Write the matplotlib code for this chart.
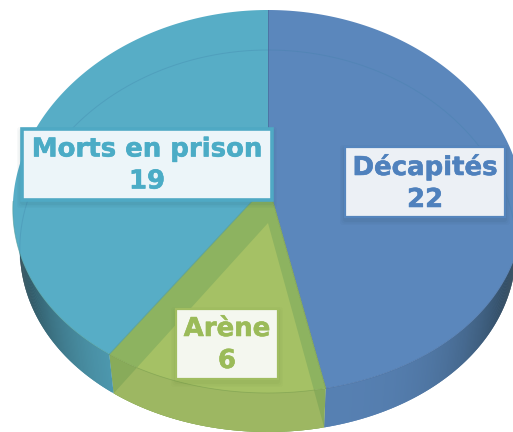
"""
Translucent 3D-look pie chart drawn from the slice counts.
"""

import numpy as np
import matplotlib
matplotlib.use("Agg")
import matplotlib.pyplot as plt
import matplotlib.patheffects as pe
from matplotlib.colors import to_rgb
from matplotlib.patches import FancyBboxPatch, Polygon, Rectangle

labels = ["Décapités", "Arène", "Morts en prison"]
values = [22, 6, 19]
colors = ["#5b87bc", "#8db360", "#57adc6"]
text_colors = ["#4f81bd", "#9bbb59", "#4bacc6"]
box_fills = ["#ecf0f5", "#f4f7ef", "#ecf5f9"]
box_edges = ["#5585bd", "#a0bd60", "#4fa9c4"]
box_shadows = ["#1d3a50", "#5f7f30", "#1d4a5a"]
box_widths = [1.6, 1.6, 2.6]
label_boxes = [(345, 147, 160, 70), (176, 309, 102, 70), (22, 129, 250, 71)]

GREEN_LIGHT = "#a5c165"
GREEN_FRONT = "#9db762"
GREEN_WALL = "#88ab5a"

CX = 268
TOP = dict(cy=201.5, rx=255, ry=191.5, apex=184)
BOTTOM = dict(cy=241, rx=248, ry=191, apex=223)


def warp(theta):
    # perspective spreads the angles near the front of the disk
    return theta + 0.049 * np.sin(2 * theta)


def rim(theta, disk):
    x = CX + disk["rx"] * np.sin(theta) * (1 - 0.04 * np.cos(theta))
    return x, disk["cy"] - disk["ry"] * np.cos(theta)


def wedge(a0, a1, disk):
    t = np.linspace(a0, a1, 160)
    x, y = rim(t, disk)
    return np.c_[np.r_[CX, x], np.r_[disk["apex"], y]]


fig = plt.figure(figsize=(5.13, 4.32), dpi=100)
ax = fig.add_axes([0, 0, 1, 1])
ax.set_xlim(0, 513)
ax.set_ylim(432, 0)
ax.axis("off")

edges = warp(np.r_[0, np.cumsum(values)] / sum(values) * 2 * np.pi)

# outer wall, dark towards both ends
dark = np.array(to_rgb("#1d3038"))
top_limit = 3 * np.pi / 2 - 0.3
for i in range(len(values)):
    start = max(edges[i], np.pi / 2)
    end = min(edges[i + 1], 3 * np.pi / 2 - 0.03)
    steps = np.linspace(start, end, max(int((end - start) * 120), 3))
    base = np.array(to_rgb(GREEN_WALL if i == 1 else colors[i])) * (1 if i == 1 else 0.95)
    for j in range(len(steps) - 1):
        a = steps[j]
        # each strip runs under the next one, so no seams show
        b = steps[min(j + 2, len(steps) - 1)]
        shade = abs(np.sin(a)) ** 4 * 0.85
        if i == 1:
            shade = 0
        # the wall tapers out at the left, where the two rims meet
        xa, ya = rim(np.minimum(np.array([a, b]), top_limit), TOP)
        xb, yb = rim(np.array([b, a]), BOTTOM)
        c = base * (1 - shade) + dark * shade
        ax.fill(np.r_[xa, xb], np.r_[ya, yb], color=c, lw=0, zorder=1)

# green slice of the bottom disk, over the wall
ax.add_patch(Polygon(wedge(edges[1], edges[2], BOTTOM), fc=GREEN_FRONT, ec="none", zorder=2))

# top disk
for i in [0, 2, 1]:
    ax.add_patch(Polygon(wedge(edges[i], edges[i + 1], TOP), fc=colors[i], ec="none", zorder=3))

# faint rim of the bottom disk, through the surface
t = np.linspace(-np.pi / 2 - 0.1, np.pi / 2 + 0.1, 200)
back_x, back_y = rim(t, BOTTOM)
ax.plot(back_x, back_y, color="#3f80a8", lw=0.7, alpha=0.3, zorder=4)

# lighter part of the green slice, where both disks overlap
top_green = Polygon(wedge(edges[1], edges[2], TOP), fc="none", ec="none", zorder=4)
ax.add_patch(top_green)
light = Polygon(wedge(edges[1], edges[2], BOTTOM), fc=GREEN_LIGHT, ec="none", zorder=4)
ax.add_patch(light)
light.set_clip_path(top_green)

# radial edges and front rim of the top disk
edge_colors = ["#4a6f9f", "#7d9f50", "#4f9a94"]
for i in range(len(values)):
    x, y = rim(edges[i], TOP)
    ax.plot([CX, x], [TOP["apex"], y], color=edge_colors[i], lw=0.7, alpha=0.8, zorder=5)
    t = np.linspace(max(edges[i], np.pi / 2), min(edges[i + 1], 3 * np.pi / 2), 120)
    x, y = rim(t, TOP)
    ax.plot(x, y, color=edge_colors[i], lw=0.6, alpha=0.6, zorder=5)

# labels with a soft shadow
for i in range(len(values)):
    bx, by, bw, bh = label_boxes[i]
    for grow, a in [(10, 0.03), (7, 0.04), (4, 0.05)]:
        ax.add_patch(FancyBboxPatch((bx - grow / 2, by + 3 - grow / 2), bw + grow, bh + grow,
                                    boxstyle="round,pad=0,rounding_size=3", fc=box_shadows[i],
                                    ec="none", alpha=a, zorder=6))
    ax.add_patch(Rectangle((bx, by), bw, bh, fc=box_fills[i], ec=box_edges[i],
                           lw=box_widths[i], zorder=7))
    ax.text(bx + bw / 2, by + bh / 2 + 1, f"{labels[i]}\n{values[i]}", ha="center", va="center",
            color=text_colors[i], fontsize=18.7, fontweight="bold", family="DejaVu Sans",
            linespacing=1.3, zorder=8,
            path_effects=[pe.withStroke(linewidth=0.4, foreground=text_colors[i])])

fig.savefig("out.png", dpi=100)
